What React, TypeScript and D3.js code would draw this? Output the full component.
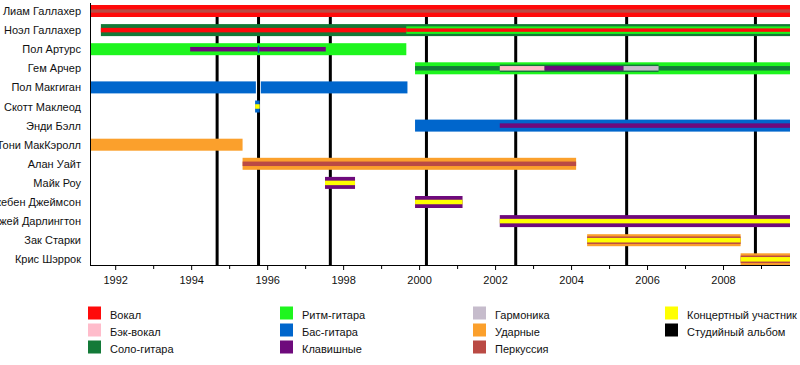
import React from "react";
import * as d3 from "d3";

const members = [
  "Лиам Галлахер",
  "Ноэл Галлахер",
  "Пол Артурс",
  "Гем Арчер",
  "Пол Макгиган",
  "Скотт Маклеод",
  "Энди Бэлл",
  "Тони МакКэролл",
  "Алан Уайт",
  "Майк Роу",
  "Джебен Джеймсон",
  "Джей Дарлингтон",
  "Зак Старки",
  "Крис Шэррок",
];

const roles = [
  { key: "vocal", label: "Вокал" },
  { key: "backing", label: "Бэк-вокал" },
  { key: "lead", label: "Соло-гитара" },
  { key: "rhythm", label: "Ритм-гитара" },
  { key: "bass", label: "Бас-гитара" },
  { key: "keys", label: "Клавишные" },
  { key: "harmonica", label: "Гармоника" },
  { key: "drums", label: "Ударные" },
  { key: "perc", label: "Перкуссия" },
  { key: "live", label: "Концертный участник" },
  { key: "album", label: "Студийный альбом" },
];

const START = 1991.35;
const END = 2009.75;

// [member index, role, from, to, layer]
const segments: [number, string, number, number, string][] = [
  [0, "vocal", START, END, "bar"],
  [0, "perc", START, END, "thin"],
  [1, "lead", 1991.61, END, "bar"],
  [1, "vocal", 1991.61, 1999.65, "narrow"],
  [1, "rhythm", 1999.65, END, "mid"],
  [1, "vocal", 1999.65, END, "thin"],
  [2, "rhythm", START, 1999.65, "bar"],
  [2, "keys", 1993.96, 1997.53, "narrow"],
  [2, "bass", 1995.74, 1995.78, "mid"],
  [3, "rhythm", 1999.88, END, "bar"],
  [3, "lead", 1999.88, END, "narrow"],
  [3, "lead", 2002.11, 2006.29, "mid"],
  [3, "backing", 2002.11, 2003.29, "narrow"],
  [3, "keys", 2003.29, 2005.37, "narrow"],
  [3, "harmonica", 2005.37, 2006.29, "narrow"],
  [4, "bass", START, 1995.69, "bar"],
  [4, "bass", 1995.82, 1999.68, "bar"],
  [5, "bass", 1995.67, 1995.79, "bar"],
  [5, "live", 1995.67, 1995.79, "narrow"],
  [6, "bass", 1999.88, END, "bar"],
  [6, "keys", 2002.11, END, "narrow"],
  [7, "drums", START, 1995.34, "bar"],
  [8, "drums", 1995.34, 2004.12, "bar"],
  [8, "perc", 1995.34, 2004.12, "narrow"],
  [9, "keys", 1997.51, 1998.3, "bar"],
  [9, "live", 1997.51, 1998.3, "narrow"],
  [10, "keys", 1999.88, 2001.13, "bar"],
  [10, "live", 1999.88, 2001.13, "narrow"],
  [11, "keys", 2002.11, END, "bar"],
  [11, "live", 2002.11, END, "narrow"],
  [12, "drums", 2004.41, 2008.45, "bar"],
  [12, "perc", 2004.41, 2008.45, "mid"],
  [12, "live", 2004.41, 2008.45, "narrow"],
  [13, "drums", 2008.45, END, "bar"],
  [13, "perc", 2008.45, END, "mid"],
  [13, "live", 2008.45, END, "narrow"],
];

const albums = [1994.67, 1995.76, 1997.65, 2000.18, 2002.53, 2005.45, 2008.84];

const majorTicks = [1992, 1994, 1996, 1998, 2000, 2002, 2004, 2006, 2008];
const minorTicks = [1993, 1995, 1997, 1999, 2001, 2003, 2005, 2007, 2009];

const colors: Record<string, string> = {
  vocal: "#ff0a0a",
  backing: "#ffbccb",
  lead: "#137a38",
  rhythm: "#1ef51e",
  bass: "#0066cc",
  keys: "#6e0a7c",
  harmonica: "#c6bccc",
  drums: "#fba02c",
  perc: "#ba4a44",
  live: "#ffff00",
  album: "#000000",
};

const layerHeight: Record<string, number> = {
  bar: 12,
  mid: 7.5,
  narrow: 4.5,
  thin: 3.4,
};

const W = 800;
const H = 365;
const FONT = "'Liberation Sans', Arial, Helvetica, sans-serif";

export default function App() {
  const x = d3.scaleLinear().domain([START, END]).range([91, 790]);
  const y = d3
    .scalePoint<number>()
    .domain(d3.range(members.length))
    .range([11, 11 + 19.1 * (members.length - 1)]);
  const axisY = 265;
  const legendCols = [88, 280, 473, 665];
  const legendTop = 306.5;
  const legendStep = 17;

  return (
    <svg
      width={W}
      height={H}
      style={{ position: "absolute", left: 0, top: 0, background: "#fff" }}
      fontFamily={FONT}
    >
      {albums.map((a, i) => (
        <line key={"al" + i} x1={x(a)} x2={x(a)} y1={6} y2={axisY} stroke="#000" strokeWidth={3} />
      ))}
      {segments.map(([m, role, from, to, layer], i) => {
        const h = layerHeight[layer];
        return (
          <rect
            key={"s" + i}
            x={x(from)}
            y={(y(m) as number) - h / 2}
            width={Math.max(1, x(to) - x(from))}
            height={h}
            fill={colors[role]}
          />
        );
      })}
      <line x1={90.5} x2={90.5} y1={3} y2={axisY} stroke="#000" strokeWidth={1} />
      <line x1={90} x2={790} y1={axisY + 0.5} y2={axisY + 0.5} stroke="#000" strokeWidth={1} />
      {majorTicks.map((t) => (
        <g key={"mt" + t}>
          <line x1={x(t)} x2={x(t)} y1={axisY} y2={axisY + 5} stroke="#000" />
          <text x={x(t)} y={284} fontSize={11} textAnchor="middle" fill="#111">
            {t}
          </text>
        </g>
      ))}
      {minorTicks.map((t) => (
        <line key={"mn" + t} x1={x(t)} x2={x(t)} y1={axisY} y2={axisY + 4} stroke="#000" />
      ))}
      {members.map((m, i) => (
        <text key={"m" + i} x={81} y={(y(i) as number) + 4} fontSize={11} textAnchor="end" fill="#111">
          {m}
        </text>
      ))}
      {roles.map((r, i) => {
        const col = Math.floor(i / 3);
        const row = i % 3;
        const lx = legendCols[col];
        const ly = legendTop + row * legendStep;
        return (
          <g key={"lg" + r.key}>
            <rect x={lx} y={ly} width={13} height={13} fill={colors[r.key]} />
            <text x={lx + 22} y={ly + 12} fontSize={11} fill="#111">
              {r.label}
            </text>
          </g>
        );
      })}
    </svg>
  );
}
